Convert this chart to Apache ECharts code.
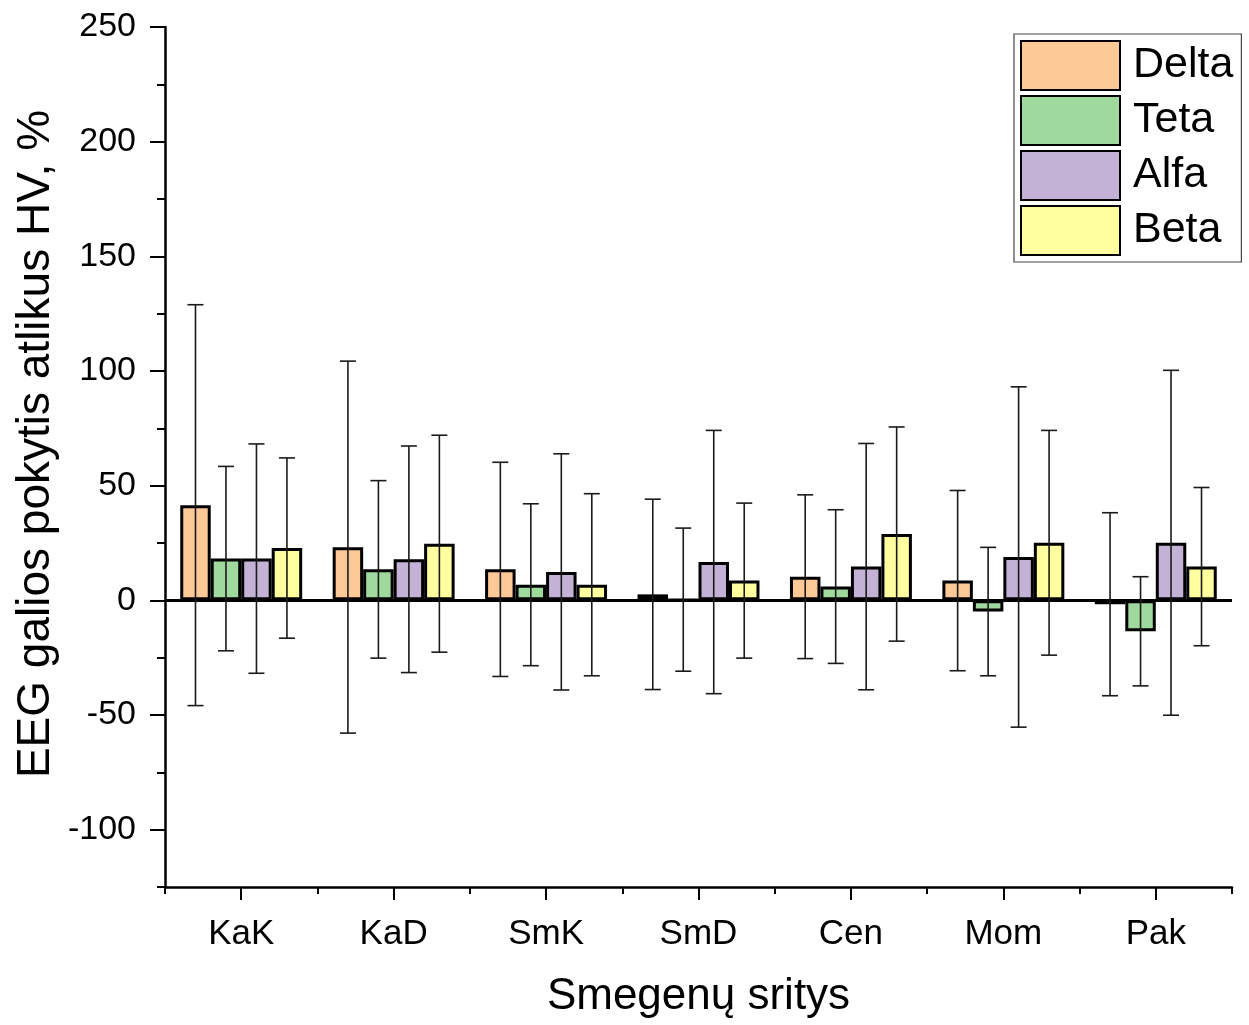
<!DOCTYPE html>
<html>
<head>
<meta charset="utf-8">
<title>EEG galios pokytis</title>
<script src="https://cdn.jsdelivr.net/npm/echarts@6/dist/echarts.min.js"></script>
<style>
  html, body { margin: 0; padding: 0; background: #ffffff; }
  #chart { width: 1249px; height: 1025px; }
</style>
</head>
<body>
<div id="chart"></div>
<script>
const categories = ['KaK', 'KaD', 'SmK', 'SmD', 'Cen', 'Mom', 'Pak']
const seriesNames = ['Delta', 'Teta', 'Alfa', 'Beta']
const deltaMean = [41.5, 23.2, 13.5, 2.6, 10.3, 8.6, -1.7]
const deltaSd = [87.4, 81.1, 46.7, 41.5, 35.7, 39.3, 39.9]
const tetaMean = [18.2, 13.5, 6.8, 0.3, 6.0, -4.9, -13.5]
const tetaSd = [40.2, 38.7, 35.3, 31.2, 33.5, 28.0, 23.8]
const alfaMean = [18.2, 17.9, 12.4, 16.7, 14.7, 18.9, 25.1]
const alfaSd = [50.0, 49.4, 51.5, 57.4, 53.7, 74.2, 75.2]
const betaMean = [22.8, 24.7, 6.8, 8.6, 28.9, 25.1, 14.7]
const betaSd = [39.3, 47.3, 39.7, 33.8, 46.7, 49.0, 34.5]
const yTicks = [-100, -50, 0, 50, 100, 150, 200, 250]

const means = [deltaMean, tetaMean, alfaMean, betaMean]
const sds = [deltaSd, tetaSd, alfaSd, betaSd]
const colors = ['#FDC997', '#A0D99E', '#C3B2D6', '#FFFF9F']
const font = 'Liberation Sans, Arial, sans-serif'

const chart = echarts.init(document.getElementById('chart'))

const barSeries = seriesNames.map(function (name, i) {
  const s = {
    name: name,
    type: 'bar',
    xAxisIndex: 0,
    yAxisIndex: 0,
    data: means[i],
    barWidth: '20%',
    barGap: '0%',
    itemStyle: { color: colors[i], borderColor: '#000', borderWidth: 3 },
    z: 2
  }
  if (i === 0) {
    // zero line across the plot
    s.markLine = {
      silent: true,
      symbol: 'none',
      label: { show: false },
      lineStyle: { color: '#000', width: 3, type: 'solid' },
      data: [{ yAxis: 0 }]
    }
  }
  return s
})

// error bars (mean ± sd), shifted to each bar's slot in the group
const errorSeries = seriesNames.map(function (name, i) {
  return {
    name: name + ' err',
    type: 'custom',
    xAxisIndex: 0,
    yAxisIndex: 0,
    z: 5,
    silent: true,
    data: categories.map(function (c, k) { return [k, means[i][k], sds[i][k]] }),
    renderItem: function (params, api) {
      const k = api.value(0)
      const m = api.value(1)
      const sd = api.value(2)
      const band = api.size([1, 0])[0]
      const dx = (i - 1.5) * band * 0.2
      const top = api.coord([k, m + sd])
      const bot = api.coord([k, m - sd])
      const x = top[0] + dx
      const cap = 8
      const style = { stroke: '#1a1a1a', lineWidth: 1.6 }
      return {
        type: 'group',
        children: [
          { type: 'line', shape: { x1: x, y1: top[1], x2: x, y2: bot[1] }, style: style },
          { type: 'line', shape: { x1: x - cap, y1: top[1], x2: x + cap, y2: top[1] }, style: style },
          { type: 'line', shape: { x1: x - cap, y1: bot[1], x2: x + cap, y2: bot[1] }, style: style }
        ]
      }
    }
  }
})

const option = {
  backgroundColor: '#ffffff',
  animation: false,
  textStyle: { fontFamily: font, color: '#000' },
  grid: { left: 165, right: 17, top: 27, bottom: 138 },
  legend: {
    data: seriesNames,
    orient: 'vertical',
    left: 1014,
    top: 34,
    padding: [6, 8, 6, 6],
    itemWidth: 99,
    itemHeight: 49,
    itemGap: 4,
    icon: 'rect',
    borderColor: '#444',
    borderWidth: 1.2,
    textStyle: { fontSize: 43, lineHeight: 49, color: '#000', fontFamily: font, padding: [0, 0, 0, 8] }
  },
  xAxis: [
    {
      type: 'category',
      data: categories,
      position: 'bottom',
      name: 'Smegenų sritys',
      nameLocation: 'middle',
      nameGap: 88,
      nameTextStyle: { fontSize: 44, color: '#000', fontFamily: font },
      axisLine: { show: true, onZero: false, lineStyle: { color: '#000', width: 2.5 } },
      axisTick: { show: true, length: 7, lineStyle: { color: '#000', width: 2 } },
      axisLabel: { fontSize: 35, color: '#000', margin: 30, fontFamily: font },
      splitLine: { show: false }
    },
    {
      type: 'category',
      data: categories,
      position: 'bottom',
      axisLine: { show: false, onZero: false },
      axisTick: { show: true, alignWithLabel: true, length: 13, lineStyle: { color: '#000', width: 2 } },
      axisLabel: { show: false },
      splitLine: { show: false }
    }
  ],
  yAxis: [
    {
      type: 'value',
      min: -125,
      max: 250,
      interval: 25,
      position: 'left',
      name: 'EEG galios pokytis atlikus HV, %',
      nameLocation: 'middle',
      nameGap: 106,
      nameTextStyle: { fontSize: 46, color: '#000', fontFamily: font, padding: [0, 0, 0, 26] },
      axisLine: { show: true, onZero: false, lineStyle: { color: '#000', width: 2.5 } },
      axisTick: { show: true, length: 8, lineStyle: { color: '#000', width: 2 } },
      axisLabel: { show: false },
      splitLine: { show: false }
    },
    {
      type: 'value',
      min: -125,
      max: 250,
      position: 'left',
      offset: 0,
      axisLine: { show: false, onZero: false },
      axisTick: { show: true, length: 15, customValues: yTicks, lineStyle: { color: '#000', width: 2 } },
      axisLabel: { show: true, customValues: yTicks, fontSize: 34, color: '#000', margin: 29, fontFamily: font },
      splitLine: { show: false }
    }
  ],
  series: barSeries.concat(errorSeries)
}
chart.setOption(option)
</script>
</body>
</html>
